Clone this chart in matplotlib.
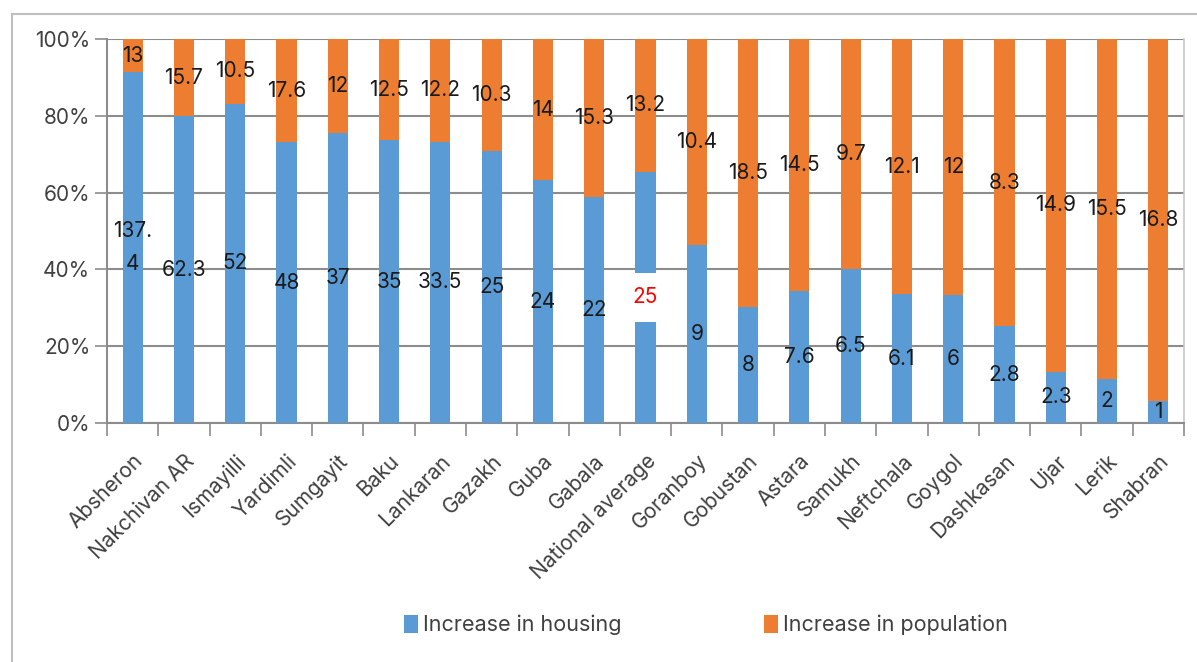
import matplotlib
matplotlib.use("Agg")
import matplotlib.pyplot as plt
from matplotlib.lines import Line2D
from matplotlib.patches import Patch
import numpy as np

categories = ["Absheron", "Nakchivan AR", "Ismayilli", "Yardimli", "Sumgayit", "Baku",
              "Lankaran", "Gazakh", "Guba", "Gabala", "National average", "Goranboy",
              "Gobustan", "Astara", "Samukh", "Neftchala", "Goygol", "Dashkasan", "Ujar",
              "Lerik", "Shabran"]
housing = [137.4, 62.3, 52, 48, 37, 35, 33.5, 25, 24, 22, 25, 9, 8, 7.6, 6.5, 6.1, 6, 2.8, 2.3, 2, 1]
population = [13, 15.7, 10.5, 17.6, 12, 12.5, 12.2, 10.3, 14, 15.3, 13.2, 10.4, 18.5, 14.5,
              9.7, 12.1, 12, 8.3, 14.9, 15.5, 16.8]
yticks = [0, 20, 40, 60, 80, 100]
series_names = ["Increase in housing", "Increase in population"]

BLUE = "#5B9BD5"
ORANGE = "#ED7D31"
GRID = "#8C8C8C"
TXT = "#404040"
FONT = "Inter"
FS = 15

plt.rcParams["font.family"] = [FONT, "DejaVu Sans"]

W, H = 1197, 662
fig = plt.figure(figsize=(W / 100, H / 100), dpi=100)
ax = fig.add_axes([107 / W, 1 - 423 / H, (1184 - 107) / W, 384 / H])

h = np.array(housing, float)
p = np.array(population, float)
tot = h + p
hp = h / tot * 100
pp = p / tot * 100
x = np.arange(len(categories))

ax.bar(x, hp, width=0.39, color=BLUE, zorder=3)
ax.bar(x, pp, bottom=hp, width=0.39, color=ORANGE, zorder=3)

for i in range(len(categories)):
    hl = f"{housing[i]:g}"
    if hl == "137.4":
        hl = "137.\n4"
    if categories[i] == "National average":
        ax.text(x[i], hp[i] / 2, hl, ha="center", va="center", fontsize=FS, color="#FF0000",
                zorder=5, bbox=dict(boxstyle="square,pad=0.7", fc="white", ec="none"))
    else:
        ax.text(x[i], hp[i] / 2, hl, ha="center", va="center", fontsize=FS, color="#1a1a1a",
                zorder=5, linespacing=1.85)
    ax.text(x[i], hp[i] + pp[i] / 2, f"{population[i]:g}", ha="center", va="center",
            fontsize=FS, color="#1a1a1a", zorder=5)

ax.set_xlim(-0.5, len(categories) - 0.5)
ax.set_ylim(0, 100)
ax.set_yticks(yticks)
ax.set_yticklabels([f"{v}%" for v in yticks], fontsize=FS, color=TXT)
ax.yaxis.grid(True, color=GRID, linewidth=1.5, zorder=0)
ax.tick_params(axis="y", length=9, width=1.2, color=GRID, pad=3)

ax.set_xticks(x)
ax.set_xticklabels(categories, rotation=45, ha="right", rotation_mode="anchor",
                   fontsize=FS, color=TXT)
ax.tick_params(axis="x", which="major", length=0, pad=20)
ax.set_xticks(np.arange(-0.5, len(categories) + 0.5, 1), minor=True)
ax.tick_params(axis="x", which="minor", length=9, width=1.2, color=GRID)

for s in ["left", "bottom"]:
    ax.spines[s].set_color(GRID)
    ax.spines[s].set_linewidth(1.5)
ax.spines["top"].set_visible(False)
ax.spines["right"].set_color("#C8C8C8")
ax.spines["right"].set_linewidth(1.2)

handles = [Patch(facecolor=BLUE), Patch(facecolor=ORANGE)]
fig.legend(handles, series_names, loc="center", bbox_to_anchor=(706 / W, 1 - 625 / H),
           ncol=2, frameon=False, fontsize=15.5, handlelength=0.65, handleheight=0.95,
           handletextpad=0.25, columnspacing=6.6, labelcolor=TXT)

# outer chart border
fig.add_artist(Line2D([12 / W, 12 / W], [0, 1 - 14 / H], transform=fig.transFigure,
                      color="#BFBFBF", linewidth=1.5))
fig.add_artist(Line2D([12 / W, 1], [1 - 14 / H, 1 - 14 / H], transform=fig.transFigure,
                      color="#BFBFBF", linewidth=1.5))

fig.savefig("out.png", dpi=100)
